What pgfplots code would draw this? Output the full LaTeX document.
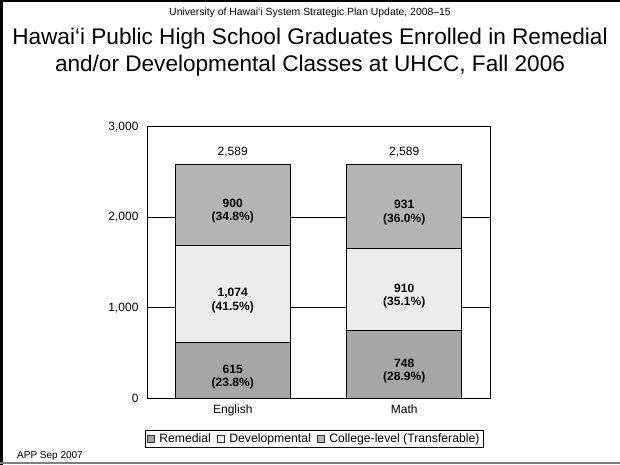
\documentclass[border=0pt]{standalone}
\usepackage{pgfplots}
\pgfplotsset{compat=1.18}
\usepackage{fontspec}
\setmainfont{Liberation Sans}
\definecolor{remc}{RGB}{166,166,166}
\definecolor{devc}{RGB}{236,236,236}
\definecolor{colc}{RGB}{180,180,180}
\pgfplotsset{
  sqlegend/.style={legend image code/.code={\draw[##1, draw=black!80, line width=0.6bp] (0bp,-3.5bp) rectangle (7bp,3.5bp);}}
}
\tikzset{barlab/.style={align=center, font=\bfseries\fontsize{12bp}{13.5bp}\selectfont, inner sep=0pt, yshift=-6.5bp}}
\begin{document}
\begin{tikzpicture}
\path[use as bounding box] (0bp,0bp) rectangle (620bp,465bp);
\draw[black, line width=2bp] (1.5bp,0bp) -- (1.5bp,464bp) -- (620bp,464bp);
\draw[gray, line width=1.2bp] (0bp,2bp) -- (620bp,2bp);
\node[anchor=base, inner sep=0pt, font=\fontsize{10.4bp}{12bp}\selectfont] at (310bp,449bp) {University of Hawai‘i System Strategic Plan Update, 2008–15};
\node[anchor=base, inner sep=0pt, font=\fontsize{22.6bp}{26bp}\selectfont] at (310bp,420bp) {Hawai‘i Public High School Graduates Enrolled in Remedial};
\node[anchor=base, inner sep=0pt, font=\fontsize{22.6bp}{26bp}\selectfont] at (310bp,393bp) {and/or Developmental Classes at UHCC, Fall 2006};
\node[anchor=base west, inner sep=0pt, font=\fontsize{10bp}{12bp}\selectfont] at (17bp,7bp) {APP Sep 2007};
\begin{axis}[
  at={(147bp,66.7bp)}, anchor=south west,
  scale only axis, width=343bp, height=271.5bp,
  ybar stacked, bar width=115bp,
  xmin=-0.5, xmax=1.5, ymin=0, ymax=3000,
  xtick={0,1}, xticklabels={English,Math},
  ytick={0,1000,2000,3000},
  major tick length=0pt,
  ymajorgrids, grid style={black, line width=0.8bp},
  axis line style={black, line width=0.9bp},
  /pgf/number format/assume math mode=true,
  /pgf/number format/1000 sep={,},
  tick label style={font=\fontsize{12bp}{14bp}\selectfont},
  yticklabel style={xshift=-5bp},
  xticklabel style={yshift=-3bp},
  legend columns=-1,
  legend style={at={(0.487,0)}, anchor=north, yshift=-32bp, draw=black, line width=0.8bp,
    font=\fontsize{12.2bp}{14bp}\selectfont, inner xsep=1.5bp, inner ysep=1bp,
    /tikz/every odd column/.append style={column sep=3bp},
    /tikz/every even column/.append style={column sep=4bp}},
  sqlegend,
  clip=false,
]
\addplot[fill=remc, draw=black, line width=0.8bp] coordinates {(0,615) (1,748)};
\addplot[fill=devc, draw=black, line width=0.8bp] coordinates {(0,1074) (1,910)};
\addplot[fill=colc, draw=black, line width=0.8bp] coordinates {(0,900) (1,931)};
\legend{Remedial,Developmental,College-level (Transferable)}
\coordinate (e1) at (axis cs:0,307.5);
\coordinate (e2) at (axis cs:0,1152);
\coordinate (e3) at (axis cs:0,2139);
\coordinate (m1) at (axis cs:1,374);
\coordinate (m2) at (axis cs:1,1203);
\coordinate (m3) at (axis cs:1,2123.5);
\coordinate (et) at (axis cs:0,2589);
\coordinate (mt) at (axis cs:1,2589);
\end{axis}
\node[barlab] at (e1) {615\\(23.8\%)};
\node[barlab] at (e2) {1,074\\(41.5\%)};
\node[barlab] at (e3) {900\\(34.8\%)};
\node[barlab] at (m1) {748\\(28.9\%)};
\node[barlab] at (m2) {910\\(35.1\%)};
\node[barlab] at (m3) {931\\(36.0\%)};
\node[font=\fontsize{12bp}{14bp}\selectfont, inner sep=0pt, yshift=12bp] at (et) {2,589};
\node[font=\fontsize{12bp}{14bp}\selectfont, inner sep=0pt, yshift=12bp] at (mt) {2,589};
\end{tikzpicture}
\end{document}
